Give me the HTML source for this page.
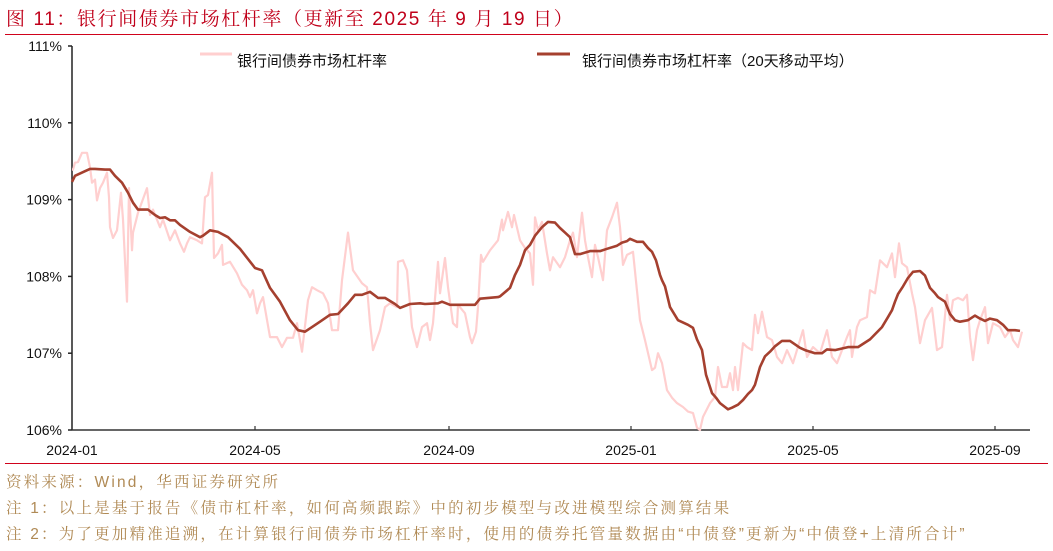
<!DOCTYPE html>
<html><head><meta charset="utf-8">
<style>
html,body{margin:0;padding:0;background:#fff;}
body{width:1053px;height:551px;position:relative;overflow:hidden;font-family:"Liberation Sans","Noto Sans CJK SC",sans-serif;}
.title{position:absolute;left:6px;top:4px;font-family:"Liberation Sans","Noto Serif CJK SC",serif;font-size:19px;letter-spacing:1.6px;color:#c0001a;white-space:nowrap;}
.rule{position:absolute;left:5px;width:1043px;height:1px;background:#d0021b;}
.foot{position:absolute;left:6px;font-family:"Liberation Sans","Noto Serif CJK SC",serif;font-size:15.5px;letter-spacing:2.2px;color:#b08a55;white-space:nowrap;}
svg{position:absolute;left:0;top:0;}
</style></head><body>
<div class="title">图 11：银行间债券市场杠杆率（更新至 2025 年 9 月 19 日）</div>
<div class="rule" style="top:34px"></div>
<svg id="chart" width="1053" height="551"></svg>
<div class="rule" style="top:463px"></div>
<div class="foot" style="top:470px">资料来源：Wind，华西证券研究所</div>
<div class="foot" style="top:496px">注 1：以上是基于报告《债市杠杆率，如何高频跟踪》中的初步模型与改进模型综合测算结果</div>
<div class="foot" style="top:522px">注 2：为了更加精准追溯，在计算银行间债券市场杠杆率时，使用的债券托管量数据由“中债登”更新为“中债登+上清所合计”</div>
<script>
const yTicks=[106,107,108,109,110,111];
const xTickLabels=["2024-01","2024-05","2024-09","2025-01","2025-05","2025-09"];
const xTickIdx=[0,183,377,559,741,923];
const rawT=[0,1,3,6,10,15,18,20,23,25,28,31,35,37,38,41,45,49,51,55,57,60,61,66,75,78,81,88,91,98,103,108,112,115,118,125,130,133,136,140,142,146,150,151,158,165,170,175,178,181,185,188,191,198,205,210,215,221,225,230,236,240,245,251,256,260,266,270,276,281,290,295,298,301,308,313,318,325,326,331,335,340,345,350,355,358,361,366,368,373,376,381,385,386,393,398,400,404,406,409,411,418,426,430,431,436,440,442,448,453,458,461,463,466,470,475,478,481,488,493,498,501,505,510,513,516,520,523,526,531,535,540,545,548,551,555,561,568,573,580,583,586,590,595,600,605,611,616,621,625,628,631,638,643,646,650,655,658,661,663,666,671,675,680,683,686,690,695,700,703,705,710,715,721,731,735,741,748,755,760,765,775,778,780,785,788,795,798,803,808,815,820,823,827,830,835,840,843,848,853,860,865,870,875,878,881,886,891,895,898,901,905,908,913,916,921,928,933,938,941,946,950];
const rawV=[109.39,109.39,109.48,109.49,109.61,109.61,109.42,109.22,109.26,108.99,109.15,109.22,109.35,109.03,108.64,108.50,108.60,109.09,108.74,107.67,109.15,108.34,108.57,108.83,109.15,108.80,108.87,108.64,108.74,108.47,108.60,108.43,108.32,108.43,108.51,108.47,108.43,109.03,109.06,109.35,108.24,108.30,108.41,108.15,108.19,108.04,107.89,107.82,107.73,107.82,107.52,107.65,107.73,107.21,107.21,107.08,107.20,107.20,107.39,107.02,107.69,107.86,107.82,107.78,107.65,107.30,107.30,107.95,108.57,108.08,107.91,107.86,107.39,107.04,107.30,107.60,107.65,107.60,108.19,108.21,108.08,107.34,107.08,107.34,107.39,107.17,107.39,108.19,107.78,108.24,107.86,107.39,107.34,107.63,107.52,107.21,107.13,107.28,107.60,108.28,108.19,108.34,108.47,108.74,108.60,108.84,108.64,108.80,108.47,108.37,108.30,107.89,108.77,108.60,108.71,108.30,108.08,108.25,108.12,108.25,108.47,108.57,108.25,108.83,108.47,108.25,107.99,108.41,108.25,107.95,108.60,108.77,108.96,108.64,108.15,108.28,108.32,107.43,107.17,106.78,106.81,107.00,106.87,106.52,106.42,106.35,106.30,106.24,106.22,106.03,106.00,106.17,106.35,106.43,106.82,106.56,106.56,106.74,106.52,106.82,106.52,107.13,107.08,107.04,107.50,107.26,107.54,107.21,107.17,107.04,106.95,106.87,107.04,106.87,107.30,106.95,107.08,107.00,107.30,106.95,106.87,107.21,107.30,106.95,107.34,107.43,107.47,107.82,107.78,108.21,108.12,108.30,107.99,108.43,108.17,108.12,107.78,107.60,107.13,107.43,107.59,107.04,107.08,107.76,107.43,107.69,107.72,107.69,107.76,107.21,106.91,107.30,107.43,107.60,107.13,107.39,107.34,107.21,107.30,107.17,107.08,107.28];
const maT=[0,3,13,18,23,33,38,43,50,56,61,66,73,76,83,88,93,98,103,108,118,128,131,138,146,156,168,183,190,198,208,218,226,233,240,248,258,266,276,283,290,298,306,313,323,328,338,348,353,366,370,378,383,403,408,426,428,438,443,448,453,458,463,470,476,483,488,493,498,503,508,518,528,535,545,550,555,558,565,571,576,580,584,588,590,593,598,606,616,621,625,630,634,640,644,648,653,656,660,666,671,676,680,683,688,693,698,703,710,718,728,733,743,750,755,763,776,786,798,810,816,820,823,826,831,836,841,848,853,858,863,866,873,878,883,888,896,903,908,913,918,925,931,936,943,948];
const maV=[109.23,109.31,109.37,109.40,109.40,109.39,109.39,109.31,109.22,109.09,108.96,108.87,108.87,108.87,108.80,108.76,108.77,108.73,108.73,108.67,108.58,108.51,108.53,108.60,108.58,108.51,108.36,108.11,108.08,107.85,107.67,107.43,107.30,107.28,107.34,107.41,107.50,107.51,107.65,107.76,107.76,107.80,107.72,107.72,107.64,107.59,107.64,107.65,107.64,107.65,107.67,107.63,107.63,107.63,107.71,107.73,107.74,107.85,108.02,108.15,108.34,108.41,108.53,108.64,108.71,108.70,108.63,108.57,108.51,108.29,108.29,108.33,108.33,108.36,108.40,108.44,108.46,108.49,108.45,108.45,108.37,108.32,108.21,108.02,107.95,107.87,107.60,107.43,107.37,107.33,107.18,107.04,106.72,106.48,106.42,106.35,106.30,106.27,106.29,106.33,106.39,106.47,106.52,106.59,106.82,106.96,107.02,107.09,107.16,107.16,107.07,107.04,107.00,107.00,107.05,107.04,107.08,107.08,107.18,107.34,107.47,107.56,107.67,107.77,107.87,107.98,108.06,108.07,108.01,107.85,107.78,107.73,107.67,107.51,107.43,107.41,107.43,107.49,107.45,107.42,107.45,107.43,107.37,107.30,107.30,107.29];

const NS='http://www.w3.org/2000/svg';
const svg=document.getElementById('chart');
const X0=72,Y0=46,Y1=430,XR=1030;
const yMin=106,yMax=111;
const xs=t=>X0+t*1.0;
const ys=v=>Y1-(v-yMin)/(yMax-yMin)*(Y1-Y0);
function mk(tag,attrs){const e=document.createElementNS(NS,tag);for(const k in attrs)e.setAttribute(k,attrs[k]);svg.appendChild(e);return e;}

const yAxis=mk('line',{x1:X0,y1:Y0,x2:X0,y2:Y1,stroke:'#222','stroke-width':1.5});


const xAxis=mk('line',{x1:X0,y1:Y1,x2:XR,y2:Y1,stroke:'#333','stroke-width':1.5});



yTicks.forEach(v=>{
  const tk=mk('line',{x1:X0-4,y1:ys(v),x2:X0,y2:ys(v),stroke:'#222','stroke-width':1.5});
  
  
  const t=mk('text',{x:62,y:ys(v)+5,'text-anchor':'end','font-size':14,fill:'#111'});
  t.textContent=v+'%';
  
  
});
xTickLabels.forEach((lab,i)=>{
  const x=xs(xTickIdx[i]);
  if(i>0){const tk=mk('line',{x1:x,y1:Y1-4,x2:x,y2:Y1,stroke:'#333','stroke-width':1.2});
  
  }
  const t=mk('text',{x:x,y:455,'text-anchor':'middle','font-size':14,fill:'#111'});
  t.textContent=lab;
  
  
});

function pathOf(T,V){return T.map((t,i)=>(i?'L':'M')+xs(t).toFixed(1)+','+ys(V[i]).toFixed(1)).join('');}
const raw=mk('path',{d:pathOf(rawT,rawV),fill:'none',stroke:'#ffcfcf','stroke-width':2.2,'stroke-linejoin':'round'});


const ma=mk('path',{d:pathOf(maT,maV),fill:'none',stroke:'#a5402f','stroke-width':2.6,'stroke-linejoin':'round'});



const l1=mk('line',{x1:200,y1:54,x2:232,y2:54,stroke:'#ffcfcf','stroke-width':3});


const t1=mk('text',{x:237,y:66,'font-size':15,fill:'#111'});
t1.textContent='银行间债券市场杠杆率';


const l2=mk('line',{x1:537,y1:54,x2:570,y2:54,stroke:'#a5402f','stroke-width':3});


const t2=mk('text',{x:582,y:66,'font-size':15,fill:'#111'});
t2.textContent='银行间债券市场杠杆率（20天移动平均）';


</script>
</body></html>
